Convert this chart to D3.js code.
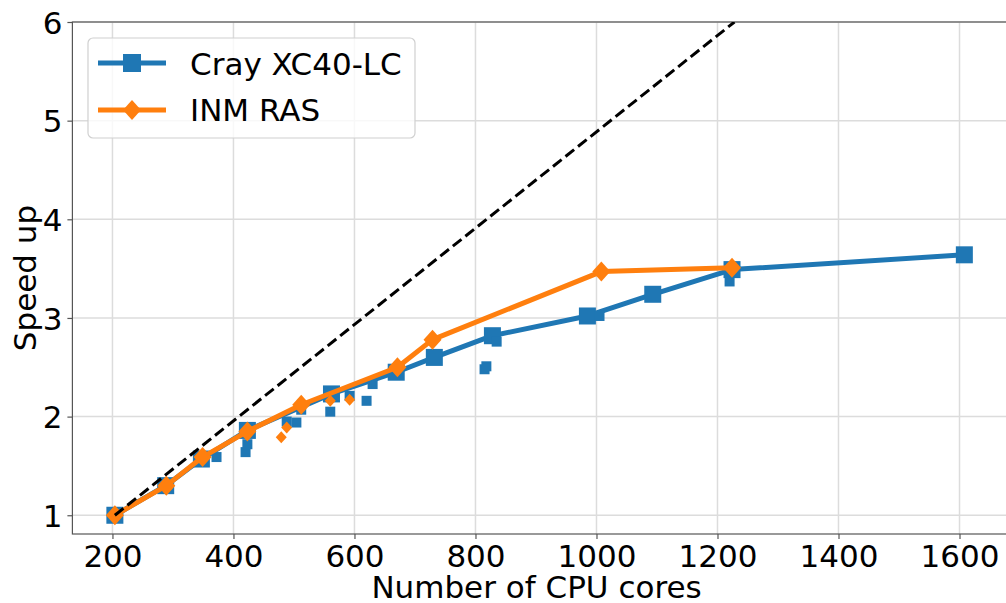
<!DOCTYPE html>
<html>
<head>
<meta charset="utf-8">
<script src="https://cdn.jsdelivr.net/npm/d3@7"></script>
<style>
  body { margin: 0; background: #fff; }
  text { font-family: "DejaVu Sans", sans-serif; fill: #000; }
</style>
</head>
<body>
<script>
// main series (line + big markers)
var crayCores = [204, 288, 347, 423, 562, 669, 732, 828, 985, 1093, 1224, 1608];
var craySpeedup = [1.00, 1.30, 1.57, 1.86, 2.23, 2.45, 2.60, 2.82, 3.02, 3.24, 3.49, 3.64];
var inmCores = [204, 289, 349, 423, 512, 671, 729, 1008, 1224];
var inmSpeedup = [1.00, 1.30, 1.59, 1.85, 2.12, 2.50, 2.78, 3.47, 3.51];

// extra runs (small markers, no line)
var crayExtraCores = [372, 420, 423, 488, 504, 512, 560, 592, 620, 630, 815, 818, 835, 1005, 1220];
var crayExtraSpeedup = [1.59, 1.64, 1.72, 1.95, 1.94, 2.07, 2.05, 2.21, 2.16, 2.33, 2.48, 2.51, 2.76, 3.02, 3.37];
var inmExtraCores = [479, 488, 560, 592];
var inmExtraSpeedup = [1.79, 1.89, 2.16, 2.17];

// ideal speed up
var idealCores = [204, 1228];
var idealSpeedup = [1, 6];

var xTicks = [200, 400, 600, 800, 1000, 1200, 1400, 1600];
var yTicks = [1, 2, 3, 4, 5, 6];

var width = 1006, height = 603;
var pLeft = 72.4, pRight = 1006.7, pTop = 22, pBottom = 534; // plot area in px

var blue = "#1f77b4", orange = "#ff7f0e";

var svg = d3.select("body").append("svg").attr("width", width).attr("height", height);

var x = d3.scaleLinear().domain([133.8, 1678]).range([pLeft, pRight]);
var y = d3.scaleLinear().domain([0.81, 6]).range([pBottom, pTop]);

svg.append("clipPath").attr("id", "clip")
    .append("rect").attr("x", pLeft).attr("y", pTop).attr("width", pRight - pLeft).attr("height", pBottom - pTop);

// grid
var grid = svg.append("g");
grid.selectAll("line.gx").data(xTicks).enter().append("line")
    .attr("x1", function (d) { return x(d); }).attr("x2", function (d) { return x(d); })
    .attr("y1", pTop).attr("y2", pBottom)
    .attr("stroke", "#dcdcdc").attr("stroke-width", 1.5);
grid.selectAll("line.gy").data(yTicks).enter().append("line")
    .attr("x1", pLeft).attr("x2", pRight)
    .attr("y1", function (d) { return y(d); }).attr("y2", function (d) { return y(d); })
    .attr("stroke", "#dcdcdc").attr("stroke-width", 1.5);

// axes
var xAxis = d3.axisBottom(x).tickValues(xTicks).tickFormat(d3.format("d")).tickSize(5).tickPadding(4).tickSizeOuter(0);
var yAxis = d3.axisLeft(y).tickValues(yTicks).tickFormat(d3.format("d")).tickSize(5).tickPadding(5).tickSizeOuter(0);

var gx = svg.append("g").attr("transform", "translate(0," + pBottom + ")").call(xAxis);
var gy = svg.append("g").attr("transform", "translate(" + pLeft + ",0)").call(yAxis);
[gx, gy].forEach(function (g) {
  g.select(".domain").remove();
  g.selectAll(".tick line").attr("stroke", "#555").attr("stroke-width", 1.2);
  g.selectAll(".tick text").attr("font-size", "31px").attr("font-family", "DejaVu Sans");
});
gx.selectAll(".tick text").attr("dy", "0.78em");
gy.selectAll(".tick text").attr("dy", "0.36em");

// spines
svg.append("rect").attr("x", pLeft).attr("y", pTop).attr("width", pRight - pLeft).attr("height", pBottom - pTop)
    .attr("fill", "none").attr("stroke", "#555").attr("stroke-width", 1.2);

var plot = svg.append("g").attr("clip-path", "url(#clip)");

var line = d3.line().x(function (d) { return x(d[0]); }).y(function (d) { return y(d[1]); });

function squares(g, cs, ss, size, color) {
  g.selectAll(null).data(d3.zip(cs, ss)).enter().append("rect")
    .attr("x", function (d) { return x(d[0]) - size / 2; })
    .attr("y", function (d) { return y(d[1]) - size / 2; })
    .attr("width", size).attr("height", size)
    .attr("fill", color);
}
function diamonds(g, cs, ss, w, h, color) {
  g.selectAll(null).data(d3.zip(cs, ss)).enter().append("path")
    .attr("d", function (d) {
      var cx = x(d[0]), cy = y(d[1]);
      return "M" + cx + "," + (cy - h) + "L" + (cx + w) + "," + cy + "L" + cx + "," + (cy + h) + "L" + (cx - w) + "," + cy + "Z";
    })
    .attr("fill", color);
}

// cray
plot.append("path").attr("d", line(d3.zip(crayCores, craySpeedup)))
    .attr("fill", "none").attr("stroke", blue).attr("stroke-width", 5).attr("stroke-linejoin", "round");
squares(plot, crayCores, craySpeedup, 17, blue);
squares(plot, crayExtraCores, crayExtraSpeedup, 10, blue);

// inm
plot.append("path").attr("d", line(d3.zip(inmCores, inmSpeedup)))
    .attr("fill", "none").attr("stroke", orange).attr("stroke-width", 5).attr("stroke-linejoin", "round");
diamonds(plot, inmCores, inmSpeedup, 9, 10, orange);
diamonds(plot, inmExtraCores, inmExtraSpeedup, 5.5, 6, orange);

// ideal
plot.append("path").attr("d", line(d3.zip(idealCores, idealSpeedup)))
    .attr("fill", "none").attr("stroke", "#000").attr("stroke-width", 3).attr("stroke-dasharray", "11,5");

// axis labels
svg.append("text").attr("x", (pLeft + pRight) / 2 - 3).attr("y", 598)
    .attr("text-anchor", "middle").attr("font-size", "31px").text("Number of CPU cores");
svg.append("text").attr("transform", "translate(36," + (pTop + pBottom) / 2 + ") rotate(-90)")
    .attr("text-anchor", "middle").attr("font-size", "31px").text("Speed up");

// legend
var leg = svg.append("g");
leg.append("rect").attr("x", 88).attr("y", 38).attr("width", 327).attr("height", 100).attr("rx", 5)
    .attr("fill", "#fff").attr("fill-opacity", 0.8).attr("stroke", "#d0d0d0").attr("stroke-width", 1.2);
leg.append("line").attr("x1", 98).attr("x2", 166).attr("y1", 63).attr("y2", 63)
    .attr("stroke", blue).attr("stroke-width", 5);
leg.append("rect").attr("x", 132 - 9).attr("y", 63 - 9).attr("width", 18).attr("height", 18).attr("fill", blue);
leg.append("line").attr("x1", 98).attr("x2", 166).attr("y1", 110).attr("y2", 110)
    .attr("stroke", orange).attr("stroke-width", 5);
leg.append("path").attr("d", "M132,100L141,110L132,120L123,110Z").attr("fill", orange);
leg.append("text").attr("x", 190).attr("y", 75).attr("font-size", "31px").text("Cray XC40-LC");
leg.append("text").attr("x", 190).attr("y", 121).attr("font-size", "31px").text("INM RAS");
</script>
</body>
</html>
